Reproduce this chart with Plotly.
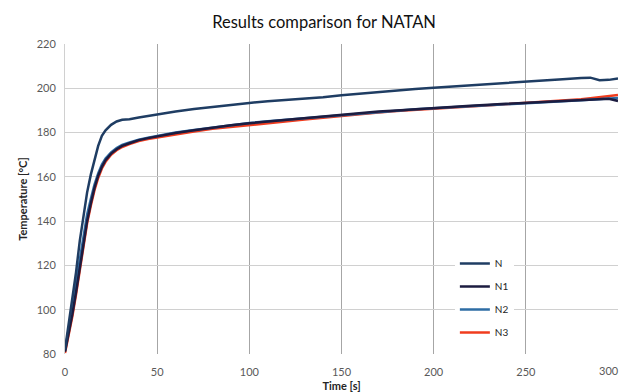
import plotly.graph_objects as go

time_s = [0, 2, 4, 6, 8, 10, 12, 14, 16, 18, 20, 22, 25, 28, 31, 35, 40, 45, 50,
          60, 70, 80, 90, 100, 110, 120, 130, 140, 150, 160, 170, 180, 190, 200,
          210, 220, 230, 240, 250, 260, 270, 280, 285, 290, 295, 300]

temp_N = [82, 93, 104, 117, 131, 143, 153, 161, 168, 174, 178.5, 181, 183.5, 185, 185.8,
          186.0, 186.8, 187.5, 188.3, 189.5, 190.6, 191.6, 192.5, 193.4, 194.1, 194.7,
          195.4, 196.0, 196.9, 197.6, 198.5, 199.2, 199.7, 200.2, 200.8, 201.4, 201.9,
          202.5, 203.0, 203.6, 204.1, 204.6, 204.8, 203.6, 203.8, 204.4]

temp_N1 = [81, 89, 98, 108, 119, 130, 140, 148, 155, 160.5, 164.5, 167.5, 170.5, 172.5,
           174, 175.2, 176.6, 177.5, 178.3, 179.8, 181, 182.2, 183.3, 184.2, 185, 185.7,
           186.4, 187.3, 188.2, 188.9, 189.5, 190, 190.6, 191.1, 191.6, 192.1, 192.6,
           193, 193.4, 193.9, 194.3, 194.7, 194.9, 195.0, 195.3, 194.3]

temp_N2 = [81.5, 91, 101, 112, 123, 134, 143, 150, 156.5, 161.5, 165.5, 168.3, 171,
           173, 174.4, 175.5, 176.8, 177.7, 178.5, 180, 181.2, 182.3, 183.4, 184.3, 185.1,
           185.8, 186.5, 187.3, 188.1, 188.8, 189.4, 189.9, 190.5, 191.0, 191.5, 192.0,
           192.5, 192.9, 193.3, 193.8, 194.2, 194.6, 194.9, 195.2, 195.5, 195.6]

temp_N3 = [80.5, 88, 97, 107, 118, 129, 139, 147, 154, 159.5, 163.8, 166.8, 170, 172,
           173.5, 174.8, 176.2, 177.1, 177.8, 179.3, 180.5, 181.7, 182.6, 183.3, 184.3,
           185.2, 185.9, 186.7, 187.6, 188.4, 189.1, 189.7, 190.2, 190.7, 191.3, 191.9,
           192.4, 192.8, 193.2, 193.8, 194.4, 195.0, 195.5, 196.0, 196.5, 197.0]

x_ticks = [0, 50, 100, 150, 200, 250, 300]
x_tick_text = ["0", "50", "100", "150", "200", "250", ""]
last_tick_label = "300"

series = [
    ("N3", temp_N3, "#f03c1e", 4),
    ("N2", temp_N2, "#2e6da4", 3),
    ("N1", temp_N1, "#1c1c40", 2),
    ("N", temp_N, "#1f3d63", 1),
]

fig = go.Figure()
for name, vals, color, rank in series:
    fig.add_trace(go.Scatter(
        x=time_s, y=vals, name=name, mode="lines",
        line=dict(color=color, width=2.5),
        legendrank=rank, legendgroup=name,
    ))

fig.add_annotation(
    x=x_ticks[-1], xref="x", y=0, yref="paper", text=last_tick_label,
    showarrow=False, xanchor="right", yanchor="middle", xshift=3, yshift=-16,
    font=dict(family="Lato, sans-serif", size=11, color="#595959"),
)

fig.update_layout(
    width=621, height=384,
    margin=dict(l=57, r=11, t=36, b=38),
    paper_bgcolor="white", plot_bgcolor="white",
    font=dict(family="Lato, sans-serif", color="#595959", size=11),
    title=dict(text="Results comparison for NATAN", x=0.509, xanchor="center",
               y=0.9635, yanchor="middle",
               font=dict(family="Lato, sans-serif", size=16.5, color="#111111")),
    showlegend=True,
    legend=dict(x=0.705, y=0.339, xanchor="left", yanchor="top",
                bgcolor="white", borderwidth=0, tracegroupgap=4,
                font=dict(family="Lato, sans-serif", size=10, color="#262626")),
    xaxis=dict(range=[0, 300], tickmode="array", tickvals=x_ticks, ticktext=x_tick_text,
               showgrid=True, automargin=False,
               gridcolor="#a6a6a6", gridwidth=1, zeroline=False,
               showline=False, ticks="", ticklabelstandoff=10,
               ticklabeloverflow="allow",
               title=dict(text="<b>Time [s]</b>", standoff=6,
                          font=dict(size=11, color="#262626"))),
    yaxis=dict(range=[80, 220], dtick=20, tick0=80, showgrid=True, automargin=False,
               gridcolor="#d0d0d0", gridwidth=1, zeroline=False,
               showline=True, linecolor="#d0d0d0", linewidth=1,
               ticks="", ticklabelstandoff=6,
               title=dict(text="<b>Temperature [°C]</b>", standoff=6,
                          font=dict(size=11, color="#262626"))),
)

fig.write_html("out.html")
